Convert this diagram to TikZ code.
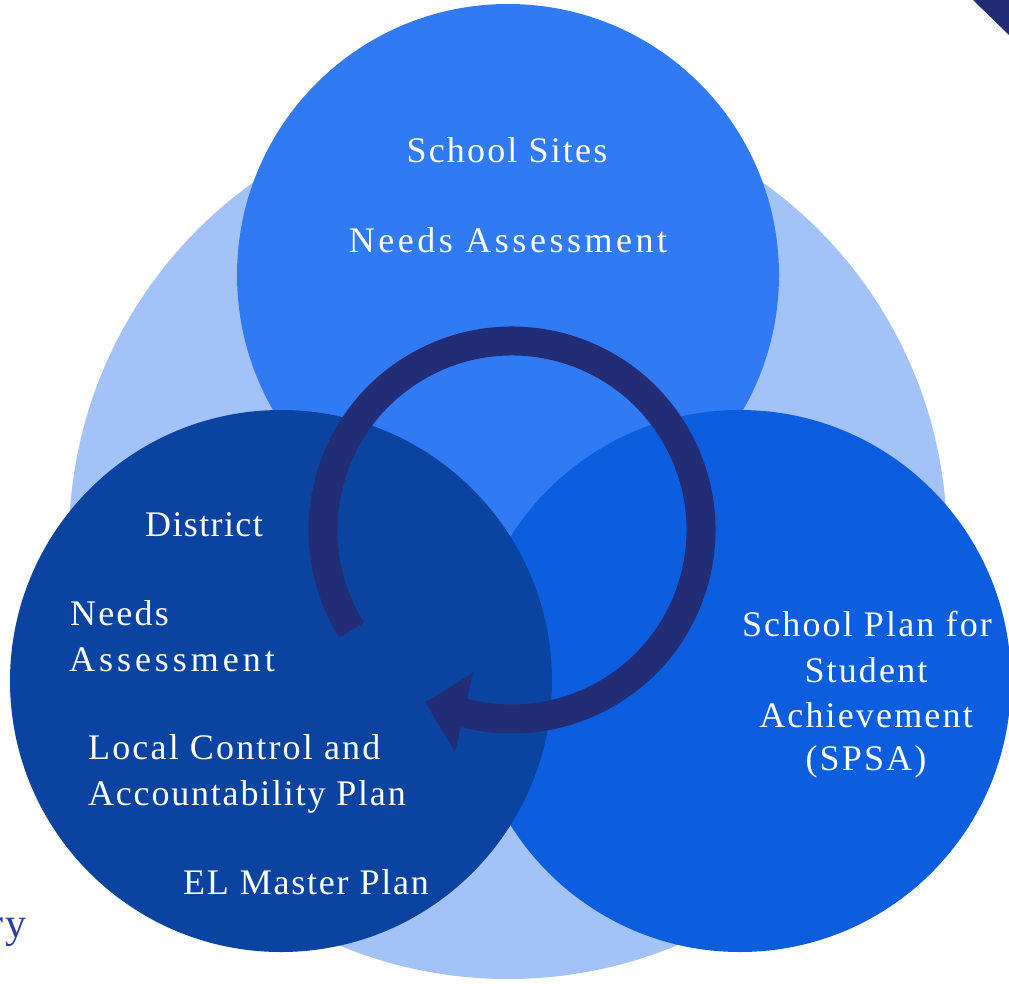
\documentclass[tikz,border=0pt]{standalone}
\usepackage{fontspec}
\setmainfont[LetterSpace=6]{Liberation Serif}
\newfontfamily\lsnarrow[LetterSpace=3.8]{Liberation Serif}
\newfontfamily\lsmid[LetterSpace=5]{Liberation Serif}
\newfontfamily\lswide[LetterSpace=9.8]{Liberation Serif}
\newfontfamily\lswider[LetterSpace=11]{Liberation Serif}
\definecolor{lightc}{HTML}{A3C3F8}
\definecolor{topc}{HTML}{307AF3}
\definecolor{rightc}{HTML}{0C5EDE}
\definecolor{leftc}{HTML}{0A44A0}
\definecolor{ringc}{HTML}{222D75}
\definecolor{ryc}{HTML}{2B3C9C}
\tikzset{
  lbl/.style={text=white, inner sep=0pt, font=\fontsize{36}{45}\selectfont},
  lblw/.style={lbl, anchor=base west},
  lblc/.style={lbl, anchor=base},
}
\begin{document}
\begin{tikzpicture}[x=1pt,y=-1pt]
\useasboundingbox (0,0) rectangle (1009,983);
% circles
\fill[lightc] (508,540) circle (439);
\fill[topc] (508,275) circle (271);
\fill[rightc] (740,681) circle (271);
\fill[leftc] (281,681) circle (271);
% corner triangle
\fill[ringc] (973,0) -- (1009,0) -- (1009,35) -- cycle;
% cycle arrow
\coordinate (c) at (512,530);
\draw[ringc, line width=29pt] ([shift={(-212:189)}]c) arc[start angle=-212, end angle=105, radius=189];
\fill[ringc] ([shift={(105.3:148)}]c) -- ([shift={(116.7:193)}]c) -- ([shift={(104.4:229)}]c) -- cycle;
% texts
\node[lblc] (ss) at (507,162) {School Sites};
\node[lblc] (na) at (508,252) {\lswide Needs Assessment};
\node[lblw] (d) at (145,536) {\lsnarrow District};
\node[lblw] (n1) at (70,625) {Needs};
\node[lblw] (n2) at (69,671) {\lswider Assessment};
\node[lblw] (l1) at (88,759) {Local Control and};
\node[lblw] (l2) at (88,805) {\lsmid Accountability Plan};
\node[lblw] (el) at (183,894) {\lsmid EL Master Plan};
\node[lblc] (r1) at (867,636) {School Plan for};
\node[lblc] (r2) at (866,682) {Student};
\node[lblc] (r3) at (866,727) {Achievement};
\node[lblc] (r4) at (866,770) {(SPSA)};
\node[inner sep=0pt, anchor=base east, text=ryc, font=\fontsize{42}{50}\selectfont] (ry) at (27,937) {ry};
\end{tikzpicture}
\end{document}
